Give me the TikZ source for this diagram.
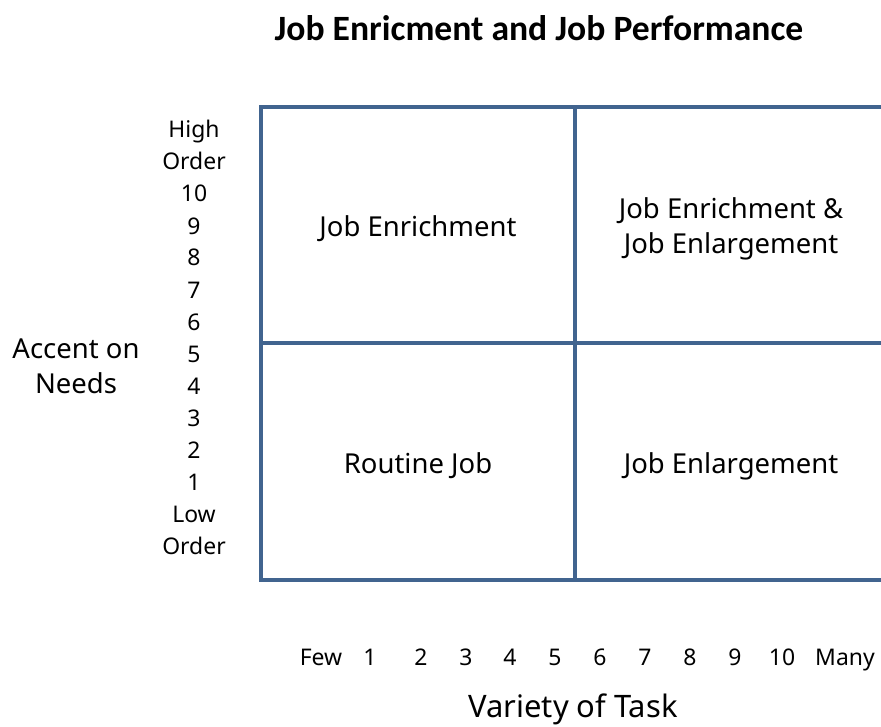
\documentclass[tikz,border=0pt]{standalone}
\usepackage{fontspec}
\setmainfont{Noto Sans}
\newfontfamily\titlefont{Carlito}
\definecolor{gridblue}{HTML}{41648F}
\begin{document}
\begin{tikzpicture}[x=0.75pt,y=-0.75pt,
  gridline/.style={draw=gridblue,line width=2.4pt},
  quad/.style={font=\fontsize{20.6pt}{26pt}\selectfont,align=center,inner sep=0pt},
  tick/.style={font=\fontsize{17.2pt}{20pt}\selectfont,inner sep=0pt,anchor=base},
  axislabel/.style={font=\fontsize{20.6pt}{26pt}\selectfont,align=center,inner sep=0pt}]
\useasboundingbox (0,0) rectangle (881,727);
\clip (0,0) rectangle (881,727);
\node[font=\titlefont\bfseries\fontsize{26.7pt}{30pt}\selectfont,inner sep=0pt] (title) at (539,28) {Job Enricment and Job Performance};
% grid
\coordinate (tl) at (261,107);
\coordinate (br) at (900,580);
\coordinate (ml) at (261,343);
\coordinate (mr) at (900,343);
\coordinate (vt) at (575,107);
\coordinate (vb) at (575,580);
\draw[gridline,line join=miter] (900,107) -- (tl) -- (261,580) -- (br);
\draw[gridline] (ml) -- (mr);
\draw[gridline] (vt) -- (vb);
% quadrant texts
\node[quad] (q1) at (418,229) {Job Enrichment};
\node[quad] (q2) at (731,229) {Job Enrichment \&\\Job Enlargement};
\node[quad] (q3) at (418,466) {Routine Job};
\node[quad] (q4) at (731,466) {Job Enlargement};
% y axis
\foreach \t [count=\i from 0] in {High,Order,10,9,8,7,6,5,4,3,2,1,Low,Order}{
  \node[tick] (y\i) at (194,{138+32*\i}) {\t};
}
\node[axislabel] (ylab) at (76,366) {Accent on\\Needs};
% x axis
\foreach \t/\x [count=\i] in {Few/321,1/370,2/421,3/466,4/510,5/555,6/600,7/645,8/690,9/735,10/782,Many/845}{
  \node[tick] (x\i) at (\x,665) {\t};
}
\node[axislabel,font=\fontsize{23.2pt}{27pt}\selectfont] (xlab) at (573,709) {Variety of Task};
\end{tikzpicture}
\end{document}
